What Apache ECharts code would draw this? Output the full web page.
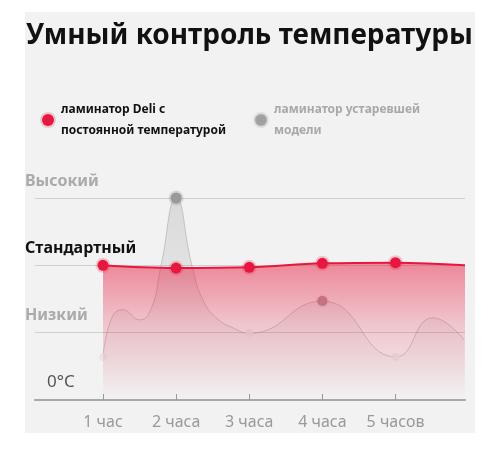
<!DOCTYPE html>
<html><head><meta charset="utf-8">
<script src="https://cdn.jsdelivr.net/npm/echarts@6/dist/echarts.min.js"></script>
<style>html,body{margin:0;padding:0;background:#fff}#c{width:500px;height:450px}</style>
</head><body><div id="c"></div>
<script>
const title = 'Умный контроль температуры';
const seriesNames = ['ламинатор Deli с\nпостоянной температурой', 'ламинатор устаревшей\nмодели'];
const hourLabels = ['1 час', '2 часа', '3 часа', '4 часа', '5 часов'];
const hourTicks = [1, 2, 3, 4, 5];
const levelLabels = ['0°C', 'Низкий', 'Стандартный', 'Высокий'];
// Deli: [hour, level]
const deliValues = [[1, 2.0], [2, 1.96], [3, 1.97], [4, 2.03], [5, 2.04], [5.95, 2.0]];
// old model curve: [hour, level]
const oldValues = [[1, 0.64], [1.12, 1.22], [1.27, 1.34], [1.5, 1.19], [1.66, 1.36], [1.79, 1.98], [2, 3.0], [2.22, 1.98], [2.36, 1.5], [2.55, 1.22], [2.8, 1.06], [3, 0.99], [4, 1.47], [5, 0.64], [5.51, 1.22], [5.94, 0.89]];

const FONT = 'Noto Sans';
const chart = echarts.init(document.getElementById('c'), null, {renderer: 'canvas'});

const deliData = deliValues.map(v => ({
  value: v,
  symbol: Number.isInteger(v[0]) ? 'circle' : 'none'
}));
const oldData = oldValues.map(v => {
  const d = {value: v, symbol: 'none'};
  if (v[0] === 2) { d.symbol = 'circle'; d.symbolSize = 11; d.itemStyle = {color: '#9a9a9a', borderColor: 'rgba(150,150,150,0.3)', borderWidth: 4}; }
  else if (v[0] === 4) { d.symbol = 'circle'; d.symbolSize = 10; d.itemStyle = {color: '#b59aa2', borderColor: 'rgba(160,140,145,0.15)', borderWidth: 3}; }
  else if (Number.isInteger(v[0])) { d.symbol = 'circle'; d.symbolSize = 8; d.itemStyle = {color: 'rgba(228,228,228,0.9)', borderWidth: 0}; }
  return d;
});

const rich = {
  hi: {color: '#aaaaaa', fontWeight: 'bold', fontSize: 16, fontFamily: FONT, padding: [0, 0, 9, 0]},
  std: {color: '#111111', fontWeight: 'bold', fontSize: 16, fontFamily: FONT, padding: [0, 0, 9, 0]},
  lo: {color: '#aaaaaa', fontWeight: 'bold', fontSize: 16, fontFamily: FONT, padding: [0, 0, 9, 0]},
  zero: {color: '#555555', fontSize: 17, fontFamily: FONT, padding: [0, 0, 9, 22]}
};
const styleKeys = ['zero', 'lo', 'std', 'hi'];

chart.setOption({
  animation: false,
  backgroundColor: '#ffffff',
  graphic: [{
    type: 'rect', left: 25, top: 12, shape: {width: 450, height: 421}, z: -10,
    style: {fill: '#f2f2f2'}, silent: true
  }],
  title: {
    text: title, left: 21, top: 17,
    textStyle: {fontFamily: FONT, fontWeight: 'bold', fontSize: 28, color: '#111'}
  },
  legend: [{
    left: 35, top: 94, itemWidth: 12, itemHeight: 12,
    data: [{name: seriesNames[0], icon: 'circle', itemStyle: {color: '#e8173f', borderColor: 'rgba(232,23,63,0.2)', borderWidth: 4}, textStyle: {color: '#111'}}],
    textStyle: {fontFamily: FONT, fontWeight: 'bold', fontSize: 12, lineHeight: 21, padding: [0, 0, 0, 2]}
  }, {
    left: 248, top: 94, itemWidth: 12, itemHeight: 12,
    data: [{name: seriesNames[1], icon: 'circle', itemStyle: {color: '#a0a0a0', borderColor: 'rgba(180,180,180,0.3)', borderWidth: 4}, textStyle: {color: '#a8a8a8'}}],
    textStyle: {fontFamily: FONT, fontWeight: 'bold', fontSize: 12, lineHeight: 21, padding: [0, 0, 0, 2]}
  }],
  grid: {left: 35, right: 35, top: 198, bottom: 50, containLabel: false},
  xAxis: {
    type: 'value', min: 0.07, max: 5.95,
    axisLine: {show: true, lineStyle: {color: '#a8a8a8', width: 2}},
    axisTick: {show: true, inside: true, length: 6, customValues: hourTicks, lineStyle: {color: '#999', width: 1}},
    axisLabel: {customValues: hourTicks, formatter: v => hourLabels[Math.round(v) - 1], color: '#999', fontSize: 16, fontFamily: FONT, margin: 14},
    splitLine: {show: false}
  },
  yAxis: {
    type: 'value', min: 0, max: 3, interval: 1,
    axisLine: {show: false}, axisTick: {show: false},
    axisLabel: {
      align: 'left', verticalAlign: 'bottom', margin: 10,
      formatter: v => '{' + styleKeys[v] + '|' + levelLabels[v] + '}',
      rich: rich
    },
    splitLine: {show: true, lineStyle: {color: '#cfcfcf', width: 1}}
  },
  series: [{
    name: seriesNames[1], type: 'line', smooth: 0.5, z: 2,
    data: oldData,
    lineStyle: {color: 'rgba(150,150,150,0.45)', width: 1},
    itemStyle: {color: '#a0a0a0'},
    areaStyle: {color: new echarts.graphic.LinearGradient(0, 0, 0, 1, [
      {offset: 0, color: 'rgba(150,150,150,0.38)'},
      {offset: 1, color: 'rgba(150,150,150,0)'}
    ])}
  }, {
    name: seriesNames[0], type: 'line', smooth: 0.4, z: 3,
    data: deliData,
    symbolSize: 11,
    lineStyle: {color: '#e8173f', width: 2},
    itemStyle: {color: '#e8173f', borderColor: 'rgba(232,23,63,0.2)', borderWidth: 4},
    areaStyle: {color: new echarts.graphic.LinearGradient(0, 0, 0, 1, [
      {offset: 0, color: 'rgba(232,30,65,0.72)'},
      {offset: 0.45, color: 'rgba(232,30,65,0.3)'},
      {offset: 1, color: 'rgba(232,30,65,0)'}
    ])}
  }]
});
</script></body></html>
